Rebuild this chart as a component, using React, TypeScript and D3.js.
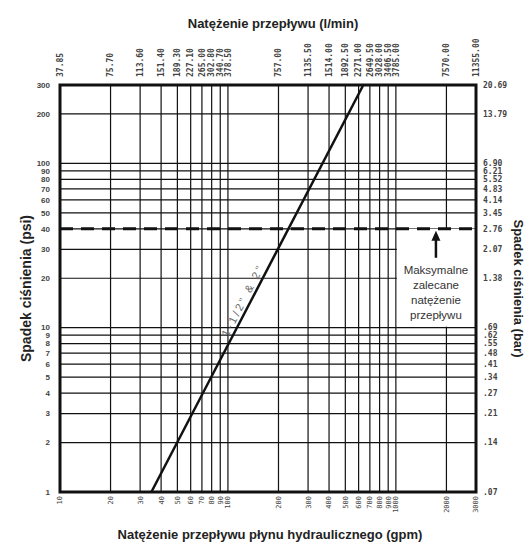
import * as d3 from "d3";

// ── Data ──────────────────────────────────────────────────────────────────────

const GPM_TICKS = [10, 20, 30, 40, 50, 60, 70, 80, 90, 100, 200, 300, 400, 500, 600, 700, 800, 900, 1000, 2000, 3000];
const LPM_LABELS = [
  "37.85", "75.70", "113.60", "151.40", "189.30", "227.10", "265.00", "302.80", "340.70", "378.50",
  "757.00", "1135.50", "1514.00", "1892.50", "2271.00", "2649.50", "3028.00", "3406.50", "3785.00",
  "7570.00", "11355.00",
];
const PSI_TICKS = [1, 2, 3, 4, 5, 6, 7, 8, 9, 10, 20, 30, 40, 50, 60, 70, 80, 90, 100, 200, 300];
const BAR_LABELS = [
  ".07", ".14", ".21", ".27", ".34", ".41", ".48", ".55", ".62", ".69",
  "1.38", "2.07", "2.76", "3.45", "4.14", "4.83", "5.52", "6.21", "6.90", "13.79", "20.69",
];
// pressure drop line for 1-1/2" & 2" (gpm, psi)
const FLOW_LINE: [number, number][] = [
  [35, 1],
  [640, 300],
];
const FLOW_LABEL = "1-1/2\" & 2\"";
const MAX_PSI = 40;
const NOTE_LINES = ["Maksymalne", "zalecane", "natężenie", "przepływu"];

// ── Layout ────────────────────────────────────────────────────────────────────

const W = 529;
const H = 543;
const M = { top: 85, right: 53, bottom: 51, left: 60 };
const SANS = "'Liberation Sans', Arial, sans-serif";
const MONO = "'DejaVu Sans Mono', monospace";

export default function App() {
  const x = d3.scaleLog().domain([10, 3000]).range([M.left, W - M.right]);
  const y = d3.scaleLog().domain([1, 300]).range([H - M.bottom, M.top]);

  const x0 = x.range()[0];
  const x1 = x.range()[1];
  const y0 = y.range()[0];
  const y1 = y.range()[1];

  const line = d3
    .line<[number, number]>()
    .x((d) => x(d[0]))
    .y((d) => y(d[1]));

  // label sits along the flow line
  const [pA, pB] = FLOW_LINE.map(([g, p]) => [x(g), y(p)]);
  const angle = (Math.atan2(pB[1] - pA[1], pB[0] - pA[0]) * 180) / Math.PI;
  const labelPsi = 14;
  const labelGpm = FLOW_LINE[0][0] * Math.pow(labelPsi, Math.log(FLOW_LINE[1][0] / FLOW_LINE[0][0]) / Math.log(300));

  // note box
  const boxX0 = x(1000) + 1;
  const boxX1 = x1 - 1;
  const boxY0 = y(MAX_PSI);
  const boxY1 = y(10) - 1;
  const noteX = (x(1000) + x1) / 2;

  return (
    <svg width={W} height={H} style={{ position: "absolute", left: 0, top: 0, background: "#fff" }}>
      {/* vertical grid */}
      {GPM_TICKS.map((g) => (
        <line key={`v${g}`} x1={x(g)} x2={x(g)} y1={y0} y2={y1} stroke="#111" strokeWidth={1.2} />
      ))}
      {/* horizontal grid */}
      {PSI_TICKS.map((p) => (
        <line key={`h${p}`} x1={x0} x2={x1} y1={y(p)} y2={y(p)} stroke="#111" strokeWidth={1.2} />
      ))}

      {/* note box knocks out the grid */}
      <rect x={boxX0} y={boxY0} width={boxX1 - boxX0} height={boxY1 - boxY0} fill="#fff" />

      {/* maximum recommended flow */}
      <line
        x1={x0}
        x2={x1}
        y1={y(MAX_PSI)}
        y2={y(MAX_PSI)}
        stroke="#111"
        strokeWidth={3}
        strokeDasharray="13 8"
      />

      {/* arrow */}
      <line x1={noteX} x2={noteX} y1={boxY0 + 10} y2={boxY0 + 29} stroke="#111" strokeWidth={2.5} />
      <path d={`M${noteX},${boxY0 + 2}L${noteX - 4.5},${boxY0 + 12}L${noteX + 4.5},${boxY0 + 12}Z`} fill="#111" />
      {NOTE_LINES.map((t, i) => (
        <text
          key={t}
          x={noteX}
          y={boxY0 + 45 + i * 15}
          textAnchor="middle"
          fontFamily={SANS}
          fontSize={11.5}
          fill="#333"
        >
          {t}
        </text>
      ))}

      {/* flow line */}
      <path d={line(FLOW_LINE) ?? ""} fill="none" stroke="#111" strokeWidth={2.5} />
      <text
        transform={`translate(${x(labelGpm)},${y(labelPsi)}) rotate(${angle})`}
        y={-3.5}
        textAnchor="middle"
        fontFamily={SANS}
        fontSize={11}
        letterSpacing={2.5}
        fill="#666"
      >
        {FLOW_LABEL}
      </text>

      {/* frame */}
      <rect x={x0} y={y1} width={x1 - x0} height={y0 - y1} fill="none" stroke="#111" strokeWidth={3} />

      {/* bottom ticks (gpm) */}
      {GPM_TICKS.map((g) => (
        <text
          key={`b${g}`}
          transform={`translate(${x(g)},${y0 + 4}) rotate(-90)`}
          dy="0.35em"
          textAnchor="end"
          fontFamily={MONO}
          fontSize={7}
          fill="#444"
        >
          {g}
        </text>
      ))}
      {/* top ticks (l/min) */}
      {GPM_TICKS.map((g, i) => (
        <text
          key={`t${g}`}
          transform={`translate(${x(g)},${y1 - 8}) rotate(-90)`}
          dy="0.35em"
          textAnchor="start"
          fontFamily={MONO}
          fontSize={8}
          fontWeight="bold"
          fill="#444"
        >
          {LPM_LABELS[i]}
        </text>
      ))}
      {/* left ticks (psi) */}
      {PSI_TICKS.map((p) => (
        <text
          key={`l${p}`}
          x={x0 - 10}
          y={y(p)}
          dy="0.35em"
          textAnchor="end"
          fontFamily={SANS}
          fontSize={8}
          fontWeight="bold"
          fill="#444"
        >
          {p}
        </text>
      ))}
      {/* right ticks (bar) */}
      {PSI_TICKS.map((p, i) => (
        <text
          key={`r${p}`}
          x={x1 + 7}
          y={y(p)}
          dy="0.35em"
          fontFamily={MONO}
          fontSize={8}
          fontWeight="bold"
          fill="#444"
        >
          {BAR_LABELS[i]}
        </text>
      ))}

      {/* titles */}
      <text x={273} y={28} textAnchor="middle" fontFamily={SANS} fontSize={13} fontWeight="bold" fill="#222">
        Natężenie przepływu (l/min)
      </text>
      <text x={270} y={539} textAnchor="middle" fontFamily={SANS} fontSize={13} fontWeight="bold" fill="#222">
        Natężenie przepływu płynu hydraulicznego (gpm)
      </text>
      <text
        transform={`translate(31,${(y0 + y1) / 2}) rotate(-90)`}
        textAnchor="middle"
        fontFamily={SANS}
        fontSize={14}
        fontWeight="bold"
        fill="#222"
      >
        Spadek ciśnienia (psi)
      </text>
      <text
        transform={`translate(514,${(y0 + y1) / 2}) rotate(90)`}
        textAnchor="middle"
        fontFamily={SANS}
        fontSize={13}
        fontWeight="bold"
        fill="#222"
      >
        Spadek ciśnienia (bar)
      </text>
    </svg>
  );
}
